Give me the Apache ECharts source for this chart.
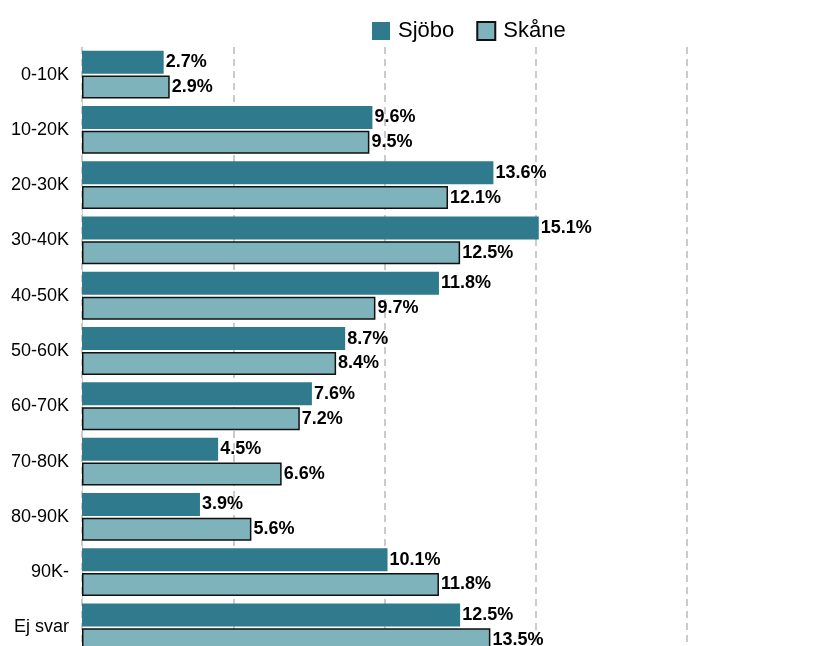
<!DOCTYPE html>
<html>
<head>
    <meta charset="UTF-8">
    <title>Inkomst</title>
    <script src="https://cdn.jsdelivr.net/npm/echarts/dist/echarts.min.js"></script>
    <style>
        body { margin: 0; background: #fff; overflow: hidden; }
        /* the chart runs past the bottom edge of the window, as in the original */
        #chart { width: 827px; height: 665px; }
    </style>
</head>
<body>
    <div id="chart"></div>
    <script type="text/javascript">
        // data
        var categories = ['0-10K', '10-20K', '20-30K', '30-40K', '40-50K', '50-60K', '60-70K', '70-80K', '80-90K', '90K-', 'Ej svar'];
        var sjobo = [2.7, 9.6, 13.6, 15.1, 11.8, 8.7, 7.6, 4.5, 3.9, 10.1, 12.5];
        var skane = [2.9, 9.5, 12.1, 12.5, 9.7, 8.4, 7.2, 6.6, 5.6, 11.8, 13.5];

        var labelStyle = {
            show: true,
            position: 'right',
            distance: 2,
            color: '#000',
            fontWeight: 'bold',
            fontSize: 18,
            fontFamily: 'Liberation Sans',
            formatter: function (p) { return p.value.toFixed(1) + '%'; }
        };

        var myChart = echarts.init(document.getElementById('chart'));
        var option = {
            animation: false,
            textStyle: { fontFamily: 'Liberation Sans' },
            legend: {
                top: 15,
                left: 367,
                icon: 'rect',
                itemWidth: 18,
                itemHeight: 18,
                itemGap: 22,
                textStyle: { fontSize: 22, color: '#000', padding: [0, 0, 0, 3] },
                data: ['Sjöbo', 'Skåne']
            },
            grid: { left: 82, right: 140, top: 47, bottom: 10, containLabel: false },
            xAxis: {
                type: 'value',
                min: 0,
                max: 20,
                interval: 5,
                axisLabel: { show: false },
                axisLine: { show: false },
                axisTick: { show: false },
                splitLine: { lineStyle: { color: '#bbb', type: [7, 5], width: 1.5 } }
            },
            yAxis: {
                type: 'category',
                inverse: true,
                data: categories,
                axisLine: { show: true, lineStyle: { color: '#ccc' } },
                axisTick: { show: false },
                axisLabel: { fontSize: 18, color: '#000', margin: 13 }
            },
            series: [
                {
                    name: 'Sjöbo',
                    type: 'bar',
                    data: sjobo,
                    barWidth: 23,
                    barGap: '8%',
                    itemStyle: { color: '#2f7b8d' },
                    label: labelStyle
                },
                {
                    name: 'Skåne',
                    type: 'bar',
                    data: skane,
                    barWidth: 23,
                    itemStyle: { color: '#7fb3bb', borderColor: '#111', borderWidth: 1.5 },
                    label: labelStyle
                }
            ]
        };
        myChart.setOption(option);
    </script>
</body>
</html>
